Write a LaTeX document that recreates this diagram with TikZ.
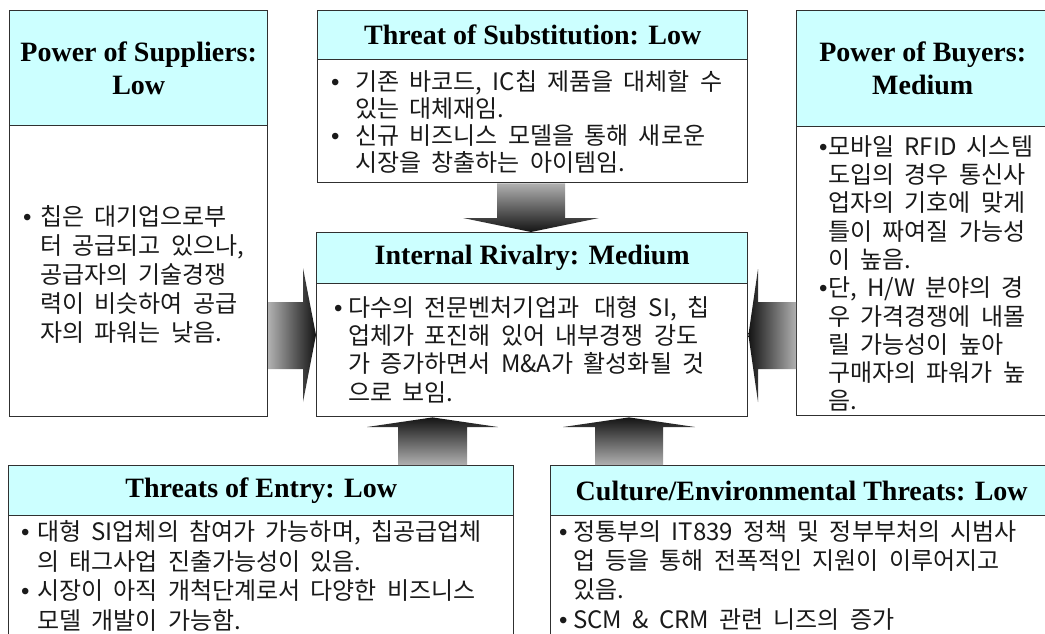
\documentclass[tikz,border=0pt]{standalone}
\usepackage{fontspec}
\setmainfont{Liberation Serif}
\newfontfamily\kr[WordSpace=1.9]{Noto Sans CJK KR}
\newfontfamily\bulfont{Liberation Sans}
\usetikzlibrary{shadings}
\definecolor{hcyan}{HTML}{CCFFFF}
\definecolor{bd}{HTML}{303030}
\definecolor{alight}{HTML}{B0B0B0}
\definecolor{adark}{HTML}{141414}
\definecolor{txt}{HTML}{1A1A1A}
\newcommand{\bu}[1]{\rule{0pt}{21pt}\makebox[#1][l]{\bulfont •}}
\newcommand{\ind}[1]{\hspace*{#1}}
\begin{document}
\begin{tikzpicture}[x=1pt,y=-1pt,
  box/.style={draw=bd, line width=1.4pt, fill=white, anchor=north west, inner sep=0pt},
  hdr/.style={draw=bd, line width=1.4pt, fill=hcyan, anchor=north west, inner sep=0pt,
    align=center, text=black, font=\fontsize{28}{33}\selectfont\bfseries},
  body/.style={anchor=north west, inner sep=0pt, align=left, text=txt},
  blockarrow/.style={shading=axis}]
\useasboundingbox (0,0) rectangle (1045,634);
\clip (0,0) rectangle (1045,634);

% boxes
\node[box, minimum width=258pt, minimum height=406pt] (sup) at (9,10) {};
\node[hdr, minimum width=258pt, minimum height=115pt] (supH) at (9,10) {Power of Suppliers:\\Low};
\node[box, minimum width=430pt, minimum height=172pt] (sub) at (317,10) {};
\node[hdr, minimum width=430pt, minimum height=49pt] (subH) at (317,10) {Threat of Substitution: Low};
\node[box, minimum width=252pt, minimum height=405pt] (buy) at (796,10) {};
\node[hdr, minimum width=252pt, minimum height=116pt] (buyH) at (796,10) {Power of Buyers:\\Medium};
\node[box, minimum width=431pt, minimum height=184pt] (riv) at (316,232) {};
\node[hdr, minimum width=431pt, minimum height=51pt] (rivH) at (316,232) {Internal Rivalry: Medium};
\node[box, minimum width=505pt, minimum height=200pt] (ent) at (8,465) {};
\node[hdr, minimum width=505pt, minimum height=50pt] (entH) at (8,465) {Threats of Entry: Low};
\node[box, minimum width=502pt, minimum height=200pt] (env) at (550,465) {};
\node[hdr, minimum width=502pt, minimum height=50pt] (envH) at (550,465) {Culture/Environmental Threats: Low};

% body texts
\node[body, font=\kr\fontsize{24}{29}\selectfont] (supT) at (23,204)
  {\bu{17pt}칩은 대기업으로부\\ \ind{17pt}터 공급되고 있으나,\\ \ind{17pt}공급자의 기술경쟁\\ \ind{17pt}력이 비슷하여 공급\\ \ind{17pt}자의 파워는 낮음.};
\node[body, font=\kr\fontsize{24}{27}\selectfont] (subT) at (331,69)
  {\bu{24pt}기존 바코드, IC칩 제품을 대체할 수\\ \ind{24pt}있는 대체재임.\\ \bu{24pt}신규 비즈니스 모델을 통해 새로운\\ \ind{24pt}시장을 창출하는 아이템임.};
\node[body, font=\kr\fontsize{24}{28.3}\selectfont] (buyT) at (819,134)
  {\bu{9pt}모바일 RFID 시스템\\ \ind{9pt}도입의 경우 통신사\\ \ind{9pt}업자의 기호에 맞게\\ \ind{9pt}틀이 짜여질 가능성\\ \ind{9pt}이 높음.\\ \bu{9pt}단, H/W 분야의 경\\ \ind{9pt}우 가격경쟁에 내몰\\ \ind{9pt}릴 가능성이 높아\\ \ind{9pt}구매자의 파워가 높\\ \ind{9pt}음.};
\node[body, font=\kr\fontsize{24}{28.3}\selectfont] (rivT) at (334,295)
  {\bu{14pt}다수의 전문벤처기업과\hspace{5pt} 대형 SI, 칩\\ \ind{14pt}업체가 포진해 있어 내부경쟁 강도\\ \ind{14pt}가 증가하면서 M\&A가 활성화될 것\\ \ind{14pt}으로 보임.};
\node[body, font=\kr\fontsize{24}{29.8}\selectfont] (entT) at (21,519)
  {\bu{16pt}대형 SI업체의 참여가 가능하며, 칩공급업체\\ \ind{16pt}의 태그사업 진출가능성이 있음.\\ \bu{16pt}시장이 아직 개척단계로서 다양한 비즈니스\\ \ind{16pt}모델 개발이 가능함.};
\node[body, font=\kr\fontsize{24}{29.3}\selectfont] (envT) at (559,519)
  {\bu{14pt}정통부의 IT839 정책 및 정부부처의 시범사\\ \ind{14pt}업 등을 통해 전폭적인 지원이 이루어지고\\ \ind{14pt}있음.\\ \bu{14pt}SCM \& CRM 관련 니즈의 증가};

% block arrows
\path[blockarrow, top color=alight, bottom color=adark]
  (497,0 |- sub.south) -- (497,218) -- (463,218) -- (531,0 |- riv.north)
  -- (599,218) -- (565,218) -- (565,0 |- sub.south) -- cycle;
\path[blockarrow, left color=alight, right color=adark]
  (sup.east |- 0,302) -- (303,302) -- (303,268) -- (riv.west |- 0,335)
  -- (303,402) -- (303,369) -- (sup.east |- 0,369) -- cycle;
\path[blockarrow, left color=adark, right color=alight]
  (buy.west |- 0,302) -- (758,302) -- (758,269) -- (riv.east |- 0,335)
  -- (758,402) -- (758,369) -- (buy.west |- 0,369) -- cycle;
\path[blockarrow, top color=adark, bottom color=alight]
  (398,0 |- ent.north) -- (398,427) -- (367,427) -- (432.5,0 |- riv.south)
  -- (498,427) -- (467,427) -- (467,0 |- ent.north) -- cycle;
\path[blockarrow, top color=adark, bottom color=alight]
  (595,0 |- env.north) -- (595,427) -- (563,427) -- (629,0 |- riv.south)
  -- (695,427) -- (663,427) -- (663,0 |- env.north) -- cycle;
\end{tikzpicture}
\end{document}
